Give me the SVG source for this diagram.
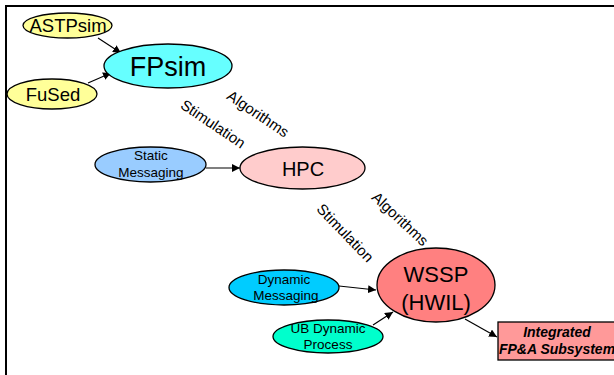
<svg xmlns="http://www.w3.org/2000/svg" width="614" height="375" viewBox="0 0 614 375">
  <style>
    text { font-family: "Liberation Sans", Arial, sans-serif; fill: #000; text-anchor: middle; }
    .node { stroke: #000; stroke-width: 1.3; }
    .edge { stroke: #000; stroke-width: 1.2; fill: none; marker-end: url(#arrow); }
    .lbl { font-size: 15px; }
    .small { font-size: 13.5px; }
  </style>
  <defs>
    <marker id="arrow" viewBox="0 0 10 10" refX="10" refY="5" markerWidth="8" markerHeight="8" markerUnits="userSpaceOnUse" orient="auto">
      <path d="M0,0 L10,5 L0,10 z" fill="#000"/>
    </marker>
  </defs>

  <rect width="614" height="375" fill="#fff"/>
  <!-- frame -->
  <path d="M6,375 V6 H614" fill="none" stroke="#000" stroke-width="2"/>

  <g id="connectors">
    <line class="edge" x1="98" y1="38" x2="121" y2="53"/>
    <line class="edge" x1="88" y1="83" x2="111" y2="73"/>
    <line class="edge" x1="206" y1="168" x2="240" y2="168"/>
    <line class="edge" x1="339" y1="286" x2="376" y2="290"/>
    <line class="edge" x1="373" y1="325" x2="393" y2="312"/>
    <line class="edge" x1="465" y1="319" x2="497" y2="337"/>
    <text class="lbl" transform="translate(258,114) rotate(34)" y="5">Algorithms</text>
    <text class="lbl" transform="translate(213,124) rotate(34)" y="5">Stimulation</text>
    <text class="lbl" transform="translate(400,219) rotate(43)" y="5">Algorithms</text>
    <text class="lbl" transform="translate(345,233) rotate(46)" y="5">Stimulation</text>
  </g>

  <g id="astpsim">
    <ellipse class="node" cx="67.5" cy="25.5" rx="44.5" ry="12.5" fill="#FFFF99"/>
    <text x="68" y="32" font-size="18.5">ASTPsim</text>
  </g>
  <g id="fused">
    <ellipse class="node" cx="52" cy="94" rx="45" ry="15" fill="#FFFF99"/>
    <text x="53" y="100.5" font-size="18.5">FuSed</text>
  </g>
  <g id="fpsim">
    <ellipse class="node" cx="168" cy="66" rx="64" ry="22" fill="#66FFFF"/>
    <text x="168" y="75.5" font-size="27">FPsim</text>
  </g>
  <g id="static-messaging">
    <ellipse class="node" cx="150.5" cy="164.5" rx="55.5" ry="17.5" fill="#99CCFF"/>
    <text class="small" x="151" y="160">Static</text>
    <text class="small" x="151" y="177">Messaging</text>
  </g>
  <g id="hpc">
    <ellipse class="node" cx="302.5" cy="168" rx="62.5" ry="21" fill="#FFCCCC"/>
    <text x="303" y="175.5" font-size="20">HPC</text>
  </g>
  <g id="dynamic-messaging">
    <ellipse class="node" cx="284" cy="287.5" rx="55" ry="17.5" fill="#00CCFF"/>
    <text class="small" x="284" y="284">Dynamic</text>
    <text class="small" x="286" y="300">Messaging</text>
  </g>
  <g id="ub-dynamic-process">
    <ellipse class="node" cx="328" cy="336.5" rx="55" ry="16.5" fill="#00FFCC"/>
    <text class="small" x="328" y="333">UB Dynamic</text>
    <text class="small" x="328" y="349">Process</text>
  </g>
  <g id="wssp">
    <ellipse class="node" cx="436" cy="285" rx="59" ry="37" fill="#FF8080"/>
    <text x="436" y="282" font-size="22">WSSP</text>
    <text x="436" y="310" font-size="22">(HWIL)</text>
  </g>
  <g id="integrated">
    <rect class="node" x="498" y="322" width="122" height="38" fill="#FF9999"/>
    <text x="557" y="337" font-size="14" font-weight="bold" font-style="italic">Integrated</text>
    <text x="557" y="354" font-size="14" font-weight="bold" font-style="italic">FP&amp;A Subsystem</text>
  </g>
</svg>
